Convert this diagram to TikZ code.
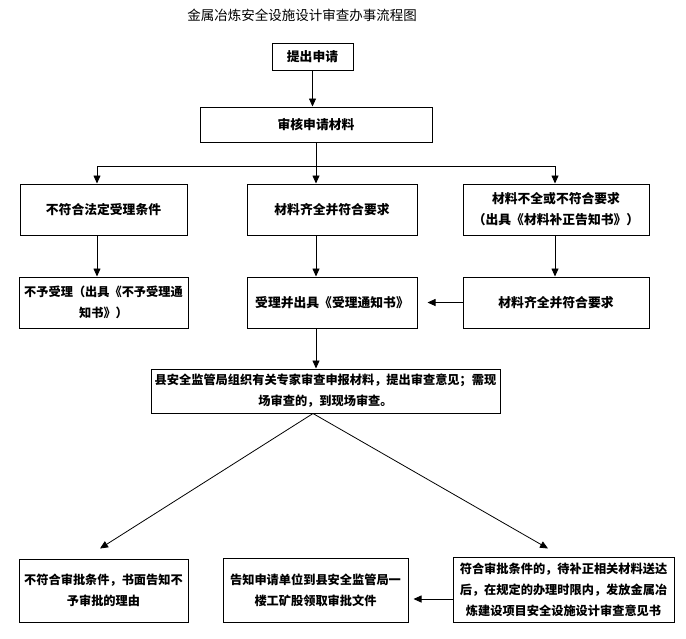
\documentclass[tikz,border=0pt]{standalone}
\usepackage{fontspec}
\setmainfont{Noto Sans CJK SC}
\usetikzlibrary{arrows.meta}

\begin{document}
\begin{tikzpicture}[x=1pt, y=-1pt, line width=0.8pt,
    >={Triangle[length=8pt,width=7pt]},
    box/.style={draw, line width=1pt, align=center, inner sep=0pt,
                font=\bfseries\fontsize{12.8}{21}\selectfont},
    small/.style={font=\bfseries\fontsize{12.2}{21}\selectfont}]
  \useasboundingbox (0,0) rectangle (686,638);

  \node (T) at (302,15) {\fontsize{13.5}{16}\selectfont 金属冶炼安全设施设计审查办事流程图};

  \node[box, minimum width=81pt, minimum height=27pt] (S) at (312.5,56.5) {提出申请};
  \node[box, minimum width=232pt, minimum height=35pt] (R) at (316,124.5) {审核申请材料};

  \node[box, minimum width=167pt, minimum height=51pt] (A) at (103.5,209.5) {不符合法定受理条件};
  \node[box, minimum width=170pt, minimum height=51pt] (B) at (332,209.5) {材料齐全并符合要求};
  \node[box, minimum width=186pt, minimum height=51pt] (C) at (556,209.5)
      {材料不全或不符合要求\\（出具《材料补正告知书》）};

  \node[box, small, minimum width=169pt, minimum height=51pt] (D) at (103.5,302.5)
      {不予受理（出具《不予受理通\\知书》）};
  \node[box, minimum width=170pt, minimum height=51pt] (E) at (332,302.5) {受理并出具《受理通知书》};
  \node[box, minimum width=186pt, minimum height=51pt] (F) at (556,302.5) {材料齐全并符合要求};

  \node[box, small, minimum width=349pt, minimum height=44pt] (G) at (325.5,391)
      {县安全监管局组织有关专家审查申报材料，提出审查意见；需现\\场审查的，到现场审查。};

  \node[box, small, minimum width=169pt, minimum height=63pt] (H) at (103.5,590.5)
      {不符合审批条件，书面告知不\\予审批的理由};
  \node[box, small, minimum width=185pt, minimum height=64pt] (I) at (315.5,590)
      {告知申请单位到县安全监管局一\\楼工矿股领取审批文件};
  \node[box, small, minimum width=221pt, minimum height=65pt] (J) at (563.5,589.5)
      {符合审批条件的，待补正相关材料送达\\后，在规定的办理时限内，发放金属冶\\炼建设项目安全设施设计审查意见书};

  % connectors
  \draw[->] (S.south) -- (S.south |- R.north);
  \draw[->] (R.south) -- ++(0,24) -| ([xshift=-6.5pt]A.north);
  \draw[->] (R.south) -- ([xshift=-16pt]B.north);
  \draw[->] (R.south) ++(0,24) -| ([xshift=-1pt]C.north);
  \draw[->] ([xshift=-6.5pt]A.south) -- ([xshift=-6.5pt]D.north);
  \draw[->] ([xshift=-16pt]B.south) -- ([xshift=-16pt]E.north);
  \draw[->] ([xshift=-1pt]C.south) -- ([xshift=-1pt]F.north);
  \draw[->] (F.west) -- ([xshift=10pt]E.east);
  \draw[->] ([xshift=-16pt]E.south) -- ([xshift=-16pt]E.south |- G.north);
  \draw[->] ([xshift=-12.5pt]G.south) -- ([shift={(-3.5pt,10pt)}]H.north);
  \draw[->] ([xshift=-12.5pt]G.south) -- ([shift={(-15.5pt,8pt)}]J.north);
  \draw[->] ([yshift=-9.5pt]J.west) -- ([shift={(5pt,-9pt)}]I.east);
\end{tikzpicture}
\end{document}
